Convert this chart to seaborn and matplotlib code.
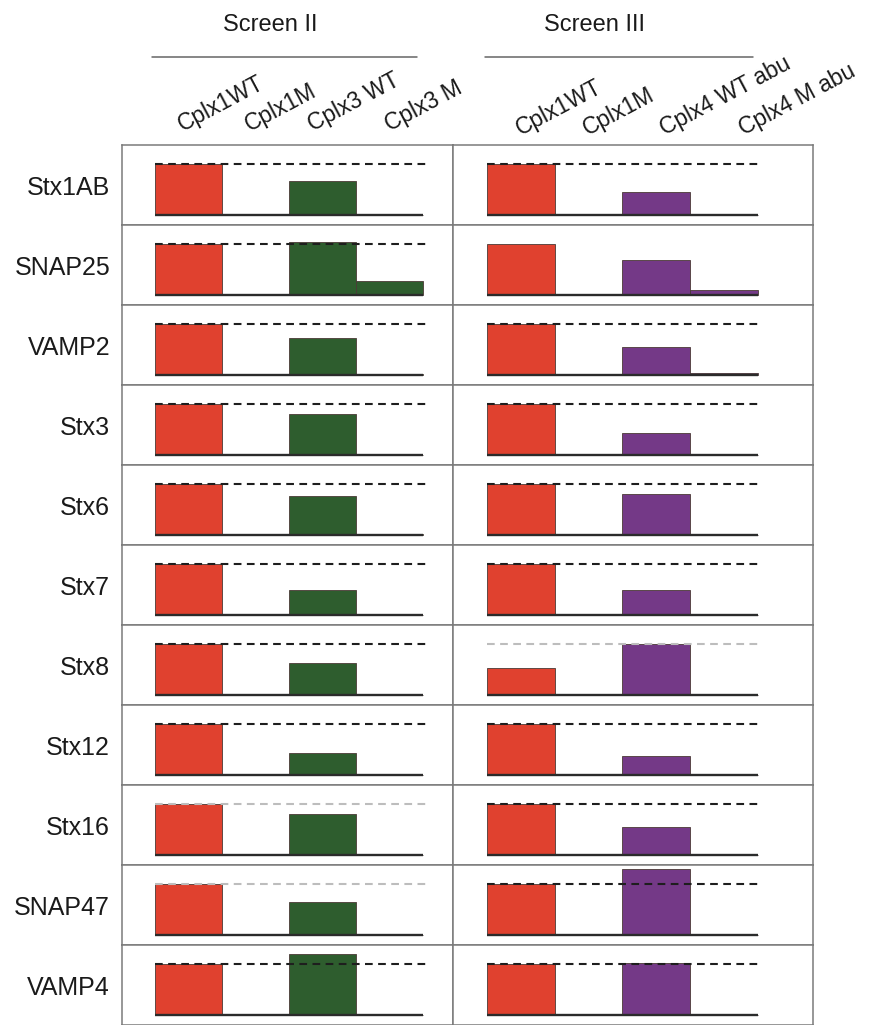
import matplotlib
matplotlib.use("Agg")
import matplotlib.pyplot as plt
import matplotlib.transforms as mtransforms
from matplotlib.lines import Line2D
import pandas as pd
import seaborn as sns

# row labels
proteins = ["Stx1AB", "SNAP25", "VAMP2", "Stx3", "Stx6", "Stx7",
            "Stx8", "Stx12", "Stx16", "SNAP47", "VAMP4"]

# Screen II
screen2_conditions = ["Cplx1WT", "Cplx1M", "Cplx3 WT", "Cplx3 M"]
screen2_cplx1wt = [1.0, 1.0, 1.0, 1.0, 1.0, 1.0, 1.0, 1.0, 1.0, 1.0, 1.0]
screen2_cplx1m = [0, 0, 0, 0, 0, 0, 0, 0, 0, 0, 0]
screen2_cplx3wt = [0.67, 1.03, 0.73, 0.81, 0.77, 0.48, 0.63, 0.43, 0.80, 0.64, 1.20]
screen2_cplx3m = [0, 0.27, 0.02, 0, 0.02, 0, 0, 0, 0, 0, 0]
screen2_refline = ["dark", "dark", "dark", "dark", "dark", "dark",
                   "dark", "dark", "light", "light", "dark"]

# Screen III
screen3_conditions = ["Cplx1WT", "Cplx1M", "Cplx4 WT abu", "Cplx4 M abu"]
screen3_cplx1wt = [1.0, 1.0, 1.0, 1.0, 1.0, 1.0, 0.52, 1.0, 1.0, 1.0, 1.0]
screen3_cplx1m = [0, 0, 0, 0, 0, 0, 0, 0, 0, 0, 0]
screen3_cplx4wt = [0.45, 0.68, 0.54, 0.43, 0.80, 0.48, 1.01, 0.37, 0.55, 1.29, 1.02]
screen3_cplx4m = [0, 0.10, 0.04, 0, 0, 0, 0, 0, 0, 0, 0]
screen3_refline = ["dark", "none", "dark", "dark", "dark", "dark",
                   "light", "dark", "dark", "dark", "dark"]

RED = "#e0412f"
GREEN = "#2e5d2e"
PURPLE = "#743987"
REF_COLORS = {"dark": "#1e1e1e", "light": "#bdbdbd"}


def long_table(conditions, series):
    rows = []
    for cond, vals in zip(conditions, series):
        for p, v in zip(proteins, vals):
            rows.append({"protein": p, "condition": cond, "value": v})
    return pd.DataFrame(rows)


panels = [
    dict(df=long_table(screen2_conditions,
                       [screen2_cplx1wt, screen2_cplx1m, screen2_cplx3wt, screen2_cplx3m]),
         conditions=screen2_conditions, refline=screen2_refline,
         colors=[RED, RED, GREEN, GREEN], xlim=(-0.99, 3.95),
         label_x=[-0.08, 0.92, 1.86, 3.0], label_y=1.17),
    dict(df=long_table(screen3_conditions,
                       [screen3_cplx1wt, screen3_cplx1m, screen3_cplx4wt, screen3_cplx4m]),
         conditions=screen3_conditions, refline=screen3_refline,
         colors=[RED, RED, PURPLE, PURPLE], xlim=(-1.0, 4.31),
         label_x=[-0.01, 0.98, 2.12, 3.28], label_y=1.12),
]

sns.set_style("white")
plt.rcParams["font.family"] = ["Liberation Sans", "DejaVu Sans"]

W, H = 869, 1025
fig = plt.figure(figsize=(W / 100, H / 100), dpi=100)
gs = fig.add_gridspec(len(proteins), 2, left=122 / W, right=813 / W,
                      top=1 - 145 / H, bottom=0.0, width_ratios=[331, 360],
                      hspace=0, wspace=0)

for col, panel in enumerate(panels):
    conds = panel["conditions"]
    palette = dict(zip(conds, panel["colors"]))
    for row, prot in enumerate(proteins):
        ax = fig.add_subplot(gs[row, col])
        sub = panel["df"][panel["df"]["protein"] == prot]
        sns.barplot(data=sub, x="condition", y="value", hue="condition",
                    order=conds, hue_order=conds, palette=palette, width=1.0,
                    saturation=1, linewidth=0.6, edgecolor="#4a3a36",
                    legend=False, ax=ax, zorder=2)
        # baseline
        ax.plot([-0.5, 3.5], [0, 0], color="#2b2b2b", lw=1.7, zorder=3,
                solid_capstyle="butt")
        # reference level
        shade = panel["refline"][row]
        if shade != "none":
            ax.plot([-0.5, 3.55], [1, 1], color=REF_COLORS[shade], lw=1.5,
                    linestyle=(0, (3.7, 2.6)), zorder=4)
        ax.set_xlim(*panel["xlim"])
        ax.set_ylim(-0.203, 1.375)
        ax.set_xticks([])
        ax.set_yticks([])
        ax.set_xlabel("")
        ax.set_ylabel("")
        for sp in ax.spines.values():
            sp.set_visible(True)
            sp.set_color("#7a7a7a")
            sp.set_linewidth(1.1)

        if col == 0:
            ax.text(-0.036, 0.46, prot, transform=ax.transAxes, ha="right",
                    va="center", fontsize=18, color="#1a1a1a")
        if row == 0:
            tr = mtransforms.blended_transform_factory(ax.transData, ax.transAxes)
            for lx, c in zip(panel["label_x"], conds):
                ax.text(lx, panel["label_y"], c, transform=tr,
                        rotation=28, rotation_mode="anchor", ha="left",
                        va="baseline", fontsize=16.5, color="#1a1a1a")

# screen headers
fig.text(270 / W, 1 - 25 / H, "Screen II", ha="center", va="center",
         fontsize=17, color="#1a1a1a")
fig.text(595 / W, 1 - 25 / H, "Screen III", ha="center", va="center",
         fontsize=17, color="#1a1a1a")
fig.add_artist(Line2D([152 / W, 417 / W], [1 - 57 / H] * 2, color="#666666", lw=1.1))
fig.add_artist(Line2D([485 / W, 753 / W], [1 - 57 / H] * 2, color="#666666", lw=1.1))

fig.savefig("out.png", dpi=100)
